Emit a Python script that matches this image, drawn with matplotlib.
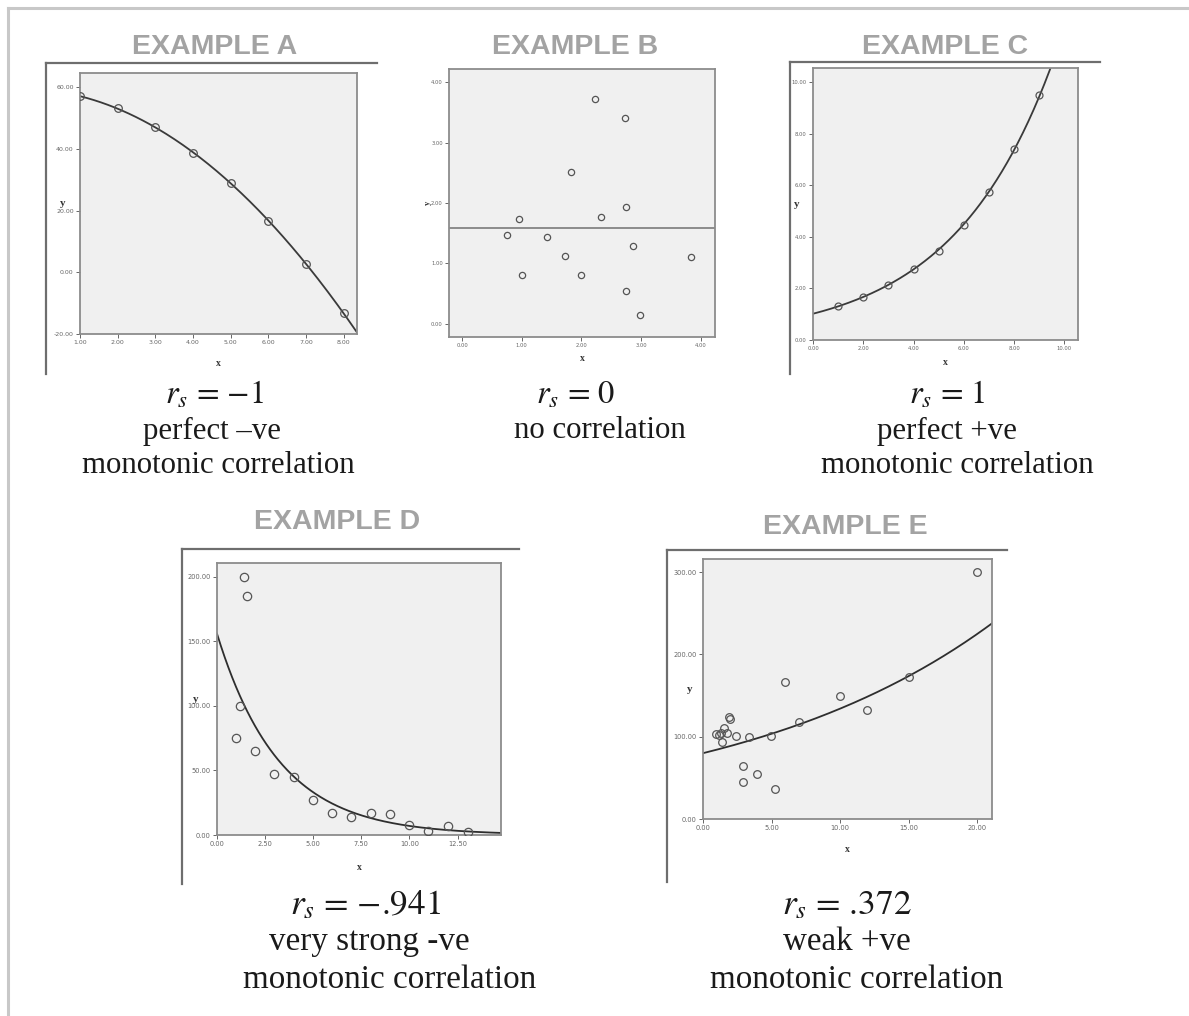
import numpy as np
import matplotlib.pyplot as plt
from matplotlib.lines import Line2D

W, H = 1189, 1016

# Example A: perfect negative (quadratic)
a_x = [1, 2, 3, 4, 5, 6, 7, 8]
a_y = [57.1, 53.2, 47.1, 38.9, 28.9, 16.8, 2.6, -13.3]

# Example B: no correlation (flat mean line)
b_x = [2.23, 2.73, 1.82, 2.75, 2.33, 0.96, 0.76, 1.42, 2.87, 1.73, 3.84, 1.01, 2.00, 2.75, 2.99]
b_y = [3.72, 3.41, 2.51, 1.94, 1.77, 1.73, 1.47, 1.44, 1.29, 1.12, 1.10, 0.81, 0.80, 0.55, 0.14]

# Example C: perfect positive (exponential)
c_x = [1, 2, 3, 4, 5, 6, 7, 8, 9]
c_y = [1.31, 1.68, 2.14, 2.75, 3.47, 4.47, 5.75, 7.41, 9.52]

# Example D: very strong negative
d_x = [1.38, 1.57, 1.18, 0.97, 1.96, 2.98, 3.98, 4.98, 5.99, 6.97, 7.99, 8.98, 10.0, 10.99, 11.99, 13.03]
d_y = [200, 185, 100, 75, 65, 47, 45, 27, 17, 14, 17, 16, 8, 3, 7, 2]
d_fit = (156.0, -0.31)   # y = a * exp(b * x)

# Example E: weak positive
e_x = [0.95, 1.2, 1.31, 1.39, 1.53, 1.73, 1.92, 1.97, 2.39, 3.36, 4.96, 6.99,
       2.94, 3.96, 2.94, 5.26, 5.98, 10.0, 11.98, 15.0, 20.0]
e_y = [103, 102, 104, 93, 111, 105, 124, 122, 101, 100, 101, 118,
       65, 55, 45, 36, 166, 149, 133, 172, 300]
e_fit = (80.0, 0.0517)

# correlation captions
rs_vals = ['\u22121', '0', '1', '\u2212.941', '.372']

plt.rcParams['mathtext.fontset'] = 'stix'
fig = plt.figure(figsize=(W / 100, H / 100), dpi=100)
fig.patch.set_facecolor('white')


def px_axes(l, t, r, b):
    return fig.add_axes([l / W, 1 - b / H, (r - l) / W, (b - t) / H])


def px_line(x0, y0, x1, y1, color='#6e6e6e', lw=1.6):
    fig.add_artist(Line2D([x0 / W, x1 / W], [1 - y0 / H, 1 - y1 / H],
                          transform=fig.transFigure, color=color, lw=lw))


def px_text(x, y, s, **kw):
    fig.text(x / W, 1 - y / H, s, ha='center', va='center', **kw)


def rs_text(x, y, val, size):
    px_text(x, y, r'$r_s$ = ' + val, fontsize=size, fontfamily='STIXGeneral',
            color='#1a1a1a')


def style(ax, xlim, ylim, xticks, yticks, xlab_off, ylab_off, ysz, ylab_rot=0, tsize=4.5):
    ax.set_facecolor('#f0f0f0')
    for s in ax.spines.values():
        s.set_color('#8c8c8c')
        s.set_linewidth(1.3)
    ax.set_xlim(*xlim)
    ax.set_ylim(*ylim)
    ax.set_xticks(xticks)
    ax.set_xticklabels([f"{v:.2f}" for v in xticks])
    ax.set_yticks(yticks)
    ax.set_yticklabels([f"{v:.2f}" for v in yticks])
    ax.tick_params(direction='out', length=3, width=0.7, labelsize=tsize,
                   colors='#666666', pad=1.5)
    # axis titles sit a fixed number of pixels from the frame
    pos = ax.get_position()
    wpx, hpx = pos.width * W, pos.height * H
    ax.set_xlabel('x', fontfamily='Liberation Serif', fontweight='bold',
                  fontsize=7, color='#333333', va='center')
    ax.xaxis.set_label_coords(0.5, -xlab_off / hpx)
    ax.set_ylabel('y', fontfamily='Liberation Serif', fontweight='bold',
                  fontsize=ysz, color='#333333', rotation=ylab_rot,
                  va='center', ha='center')
    ax.yaxis.set_label_coords(-ylab_off / wpx, 0.5)


def points(ax, x, y, ms=5.5):
    ax.plot(x, y, 'o', ms=ms, mfc='none', mec='#555555', mew=0.9, zorder=3)


# outer frame (top and left edges)
px_line(8, 8, W, 8, color='#c8c8c8', lw=2.2)
px_line(8, 8, 8, H, color='#c8c8c8', lw=2.2)

title_kw = dict(fontfamily='Liberation Sans', fontweight='bold', fontsize=20.5, color='#a3a3a3')
serif = dict(fontfamily='Liberation Serif', color='#1a1a1a')
small, big = 22.2, 23.9
rs_small, rs_big = 23.5, 25.5

# ---------- A ----------
px_text(215, 47, 'EXAMPLE A', **title_kw)
px_line(46, 63, 377, 63)
px_line(46, 63, 46, 374)
ax = px_axes(80, 73, 357, 334)
style(ax, (1, 8.35), (-20, 64.7), [1, 2, 3, 4, 5, 6, 7, 8], [-20, 0, 20, 40, 60],
      29, 17, 8)
ca = np.polyfit(a_x, a_y, 2)
xs = np.linspace(1, 8.35, 200)
ax.plot(xs, np.polyval(ca, xs), color='#3a3a3a', lw=1.3)
points(ax, a_x, a_y)
rs_text(214, 395, rs_vals[0], rs_small)
px_text(212, 431, 'perfect \u2013ve', fontsize=small, **serif)
px_text(218, 465, 'monotonic correlation', fontsize=small, **serif)

# ---------- B ----------
px_text(575, 47, 'EXAMPLE B', **title_kw)
ax = px_axes(449, 69, 715, 337)
style(ax, (-0.22, 4.24), (-0.22, 4.22), [0, 1, 2, 3, 4], [0, 1, 2, 3, 4],
      21, 21, 6, ylab_rot=90, tsize=3.8)
ax.axhline(np.mean(b_y), color='#8c8c8c', lw=1.4)
points(ax, b_x, b_y, ms=4.5)
rs_text(576, 395, rs_vals[1], rs_small)
px_text(600, 431, 'no correlation', fontsize=small, **serif)

# ---------- C ----------
px_text(945, 47, 'EXAMPLE C', **title_kw)
px_line(790, 62, 1100, 62)
px_line(790, 62, 790, 374)
ax = px_axes(813, 68, 1078, 340)
style(ax, (0, 10.54), (0, 10.56), [0, 2, 4, 6, 8, 10], [0, 2, 4, 6, 8, 10],
      22, 16, 8, tsize=3.8)
cb, cln = np.polyfit(c_x, np.log(c_y), 1)
xs = np.linspace(0, 10.54, 300)
ax.plot(xs, np.exp(cln + cb * xs), color='#3a3a3a', lw=1.3)
points(ax, c_x, c_y, ms=5)
rs_text(947, 395, rs_vals[2], rs_small)
px_text(947, 431, 'perfect +ve', fontsize=small, **serif)
px_text(957, 465, 'monotonic correlation', fontsize=small, **serif)

# ---------- D ----------
px_text(337, 522, 'EXAMPLE D', **title_kw)
px_line(182, 549, 519, 549)
px_line(182, 549, 182, 884)
ax = px_axes(217, 563, 501, 835)
style(ax, (0, 14.76), (0, 210.8), [0, 2.5, 5, 7.5, 10, 12.5], [0, 50, 100, 150, 200],
      32, 21, 8, tsize=4.8)
xs = np.linspace(0, 14.76, 300)
ax.plot(xs, d_fit[0] * np.exp(d_fit[1] * xs), color='#2e2e2e', lw=1.3)
points(ax, d_x, d_y, ms=6)
rs_text(366, 906, rs_vals[3], rs_big)
px_text(369, 942, 'very strong -ve', fontsize=big, **serif)
px_text(390, 980, 'monotonic correlation', fontsize=big, **serif)

# ---------- E ----------
px_text(845, 527, 'EXAMPLE E', **title_kw)
px_line(667, 550, 1007, 550)
px_line(667, 550, 667, 882)
ax = px_axes(703, 559, 992, 819)
style(ax, (0, 21.07), (0, 316), [0, 5, 10, 15, 20], [0, 100, 200, 300],
      31, 13, 8, tsize=4.8)
xs = np.linspace(0, 21.07, 300)
ax.plot(xs, e_fit[0] * np.exp(e_fit[1] * xs), color='#2e2e2e', lw=1.3)
points(ax, e_x, e_y, ms=5.5)
rs_text(847, 906, rs_vals[4], rs_big)
px_text(847, 942, 'weak +ve', fontsize=big, **serif)
px_text(857, 980, 'monotonic correlation', fontsize=big, **serif)

fig.savefig('out.png', dpi=100)
